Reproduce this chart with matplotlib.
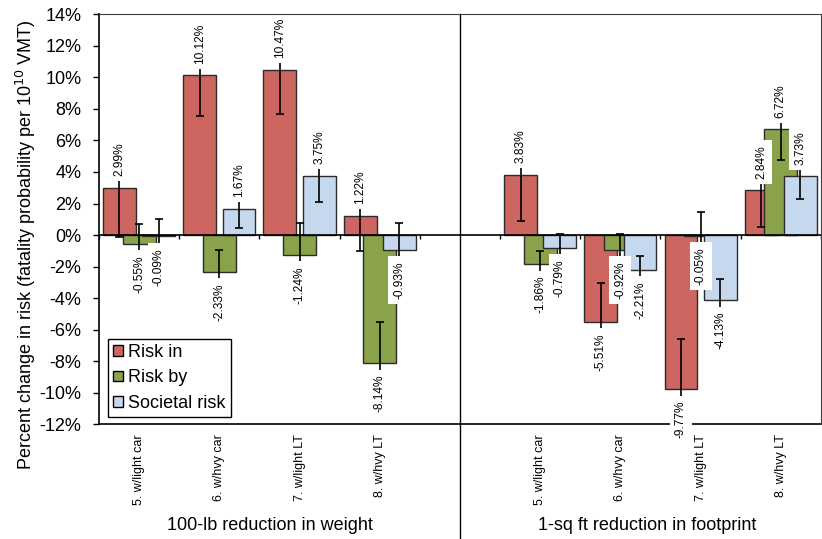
import numpy as np
import matplotlib
matplotlib.use("Agg")
import matplotlib.pyplot as plt
from matplotlib.patches import Patch

plt.rcParams['font.family'] = ['Liberation Sans', 'DejaVu Sans']

# categories per group, the two groups sit left/right of the divider
categories = ["5. w/light car", "6. w/hvy car", "7. w/light LT", "8. w/hvy LT"]
groups = ["100-lb reduction in weight", "1-sq ft reduction in footprint"]
series = ["Risk in", "Risk by", "Societal risk"]

# values in percent, weight group first then footprint group
risk_in = [2.99, 10.12, 10.47, 1.22, 3.83, -5.51, -9.77, 2.84]
risk_by = [-0.55, -2.33, -1.24, -8.14, -1.86, -0.92, -0.05, 6.72]
societal = [-0.09, 1.67, 3.75, -0.93, -0.79, -2.21, -4.13, 3.73]

# error bar half widths
risk_in_err = [3.10, 2.55, 2.82, 2.25, 2.92, 2.44, 3.16, 2.32]
risk_by_err = [1.23, 1.38, 2.02, 2.62, 0.87, 0.98, 1.49, 1.96]
societal_err = [1.10, 1.25, 1.66, 1.71, 0.85, 0.88, 1.32, 1.45]

colors = ['#cd6660', '#8aa34a', '#c5d8ed']

# slot 4 stays empty, it holds the divider
pos = np.array([0, 1, 2, 3, 5, 6, 7, 8])
width = 0.41
offset = 0.245

fig = plt.figure(figsize=(8.22, 5.39), dpi=100)
ax = fig.add_axes([0.1204, 0.2128, 0.8783, 0.7607])

data = [(risk_in, risk_in_err), (risk_by, risk_by_err), (societal, societal_err)]
for k, (vals, errs) in enumerate(data):
    x = pos + (k - 1) * offset
    ax.bar(x, vals, width=width, color=colors[k], edgecolor='#2b2b2b',
           linewidth=1.0, zorder=2 + k * 0.1)
    ax.errorbar(x, vals, yerr=errs, fmt='none', ecolor='black',
                elinewidth=1.2, capsize=3, capthick=1.2, zorder=3)
    for xi, v in zip(x, vals):
        up = v >= 0
        ax.annotate(f"{v:.2f}%", (xi, v), xytext=(0, 8.3 if up else -8.3),
                    textcoords='offset points', rotation=90, ha='center',
                    va='bottom' if up else 'top', fontsize=8.6, zorder=5,
                    bbox=dict(boxstyle='square,pad=0.42', fc='white', ec='none'))

ax.set_xlim(-0.5, 8.5)
ax.set_ylim(-12, 14)
ax.set_yticks(np.arange(-12, 15, 2))
ax.set_yticklabels([f"{t}%" for t in range(-12, 15, 2)])
ax.tick_params(axis='y', labelsize=13, direction='out', length=4.5, width=1, pad=8)

ax.set_xticks(pos)
ax.set_xticklabels(categories + categories, rotation=90, fontsize=9)
ax.tick_params(axis='x', length=0, pad=7)

# horizontal axis at zero with category tick marks
ax.axhline(0, color='black', lw=1.2, zorder=4)
ax.vlines(np.arange(-0.5, 9, 1), 0, -0.25, color='black', lw=1, zorder=4)

for s in ['top', 'right']:
    ax.spines[s].set_color('#404040')
    ax.spines[s].set_zorder(6)
ax.spines['left'].set_linewidth(1.2)
ax.spines['bottom'].set_linewidth(1.2)

# divider between the two groups, down to the bottom of the figure
ax.plot([4, 4], [-0.3, 1], color='black', lw=1, transform=ax.get_xaxis_transform(),
        clip_on=False, zorder=4)

fig.text(26 / 822, 1 - 245 / 539,
         r'Percent change in risk (fatality probability per 10$^{10}$ VMT)',
         rotation=90, ha='center', va='center', fontsize=13)
fig.text(270 / 822, 1 - 526 / 539, groups[0], ha='center', va='center', fontsize=13)
fig.text(647 / 822, 1 - 526 / 539, groups[1], ha='center', va='center', fontsize=13)

handles = [Patch(facecolor=c, edgecolor='black', linewidth=1) for c in colors]
leg = ax.legend(handles, series, loc='lower left', bbox_to_anchor=(0.0125, 0.018),
                borderaxespad=0, fontsize=13, handlelength=0.55, handleheight=0.55,
                handletextpad=0.25, labelspacing=0.45, borderpad=0.3,
                fancybox=False, framealpha=1, edgecolor='black')
leg.get_frame().set_linewidth(1)

fig.savefig("out.png", dpi=100)
